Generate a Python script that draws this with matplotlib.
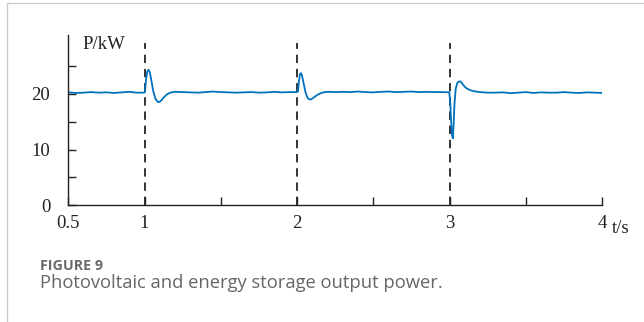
import matplotlib
matplotlib.use("Agg")
from matplotlib import pyplot as plt
from matplotlib.lines import Line2D

# output power of PV + storage
t_pre = [0.50, 0.55, 0.60, 0.65, 0.70, 0.75, 0.80, 0.85, 0.90, 0.95, 0.998]
p_pre = [20.25, 20.15, 20.2, 20.3, 20.2, 20.25, 20.15, 20.25, 20.35, 20.2, 20.2]

t_step1 = [1.003, 1.010, 1.018, 1.026, 1.034, 1.044, 1.056, 1.070, 1.084, 1.096,
           1.110, 1.128, 1.150, 1.175, 1.200]
p_step1 = [20.3, 22.6, 24.0, 24.3, 23.9, 22.5, 20.6, 19.2, 18.6, 18.5,
           18.8, 19.4, 19.95, 20.25, 20.35]

t_mid1 = [1.25, 1.30, 1.35, 1.40, 1.45, 1.50, 1.55, 1.60, 1.65, 1.70, 1.75,
          1.80, 1.85, 1.90, 1.95, 1.998]
p_mid1 = [20.3, 20.25, 20.2, 20.3, 20.4, 20.3, 20.25, 20.2, 20.25, 20.3, 20.2,
          20.25, 20.35, 20.25, 20.3, 20.3]

t_step2 = [2.006, 2.013, 2.019, 2.025, 2.032, 2.042, 2.055, 2.068, 2.080,
           2.092, 2.108, 2.130, 2.155, 2.180, 2.210]
p_step2 = [20.4, 22.4, 23.5, 23.7, 23.3, 22.0, 20.3, 19.3, 19.0,
           19.0, 19.3, 19.75, 20.1, 20.3, 20.35]

t_mid2 = [2.25, 2.30, 2.35, 2.40, 2.45, 2.50, 2.55, 2.60, 2.65, 2.70, 2.75,
          2.80, 2.85, 2.90, 2.95, 2.998]
p_mid2 = [20.3, 20.35, 20.3, 20.4, 20.3, 20.25, 20.35, 20.4, 20.3, 20.35, 20.4,
          20.3, 20.35, 20.3, 20.3, 20.25]

t_step3 = [3.004, 3.010, 3.016, 3.021, 3.026, 3.032, 3.040, 3.050, 3.060,
           3.072, 3.086, 3.105, 3.130, 3.160, 3.200]
p_step3 = [18.5, 15.0, 12.6, 12.0, 14.2, 18.2, 20.9, 21.9, 22.2,
           22.2, 21.7, 21.1, 20.7, 20.45, 20.3]

t_post = [3.25, 3.30, 3.35, 3.40, 3.45, 3.50, 3.55, 3.60, 3.65, 3.70, 3.75,
          3.80, 3.85, 3.90, 3.95, 4.00]
p_post = [20.2, 20.2, 20.25, 20.1, 20.2, 20.3, 20.15, 20.25, 20.2, 20.2, 20.3,
          20.2, 20.15, 20.25, 20.2, 20.15]

switch_times = [1, 2, 3]
x_ticks = [0.5, 1, 1.5, 2, 2.5, 3, 3.5, 4]
x_labels = ["0.5", "1", "", "2", "", "3", "", "4"]
y_ticks = [0, 5, 10, 15, 20, 25]
y_labels = ["0", "", "10", "", "20", ""]

t = t_pre + t_step1 + t_mid1 + t_step2 + t_mid2 + t_step3 + t_post
p = p_pre + p_step1 + p_mid1 + p_step2 + p_mid2 + p_step3 + p_post

serif = ["Liberation Serif", "DejaVu Serif"]
fs = 13.5

fig = plt.figure(figsize=(6.44, 3.22), dpi=100)
ax = fig.add_axes([0.106, 0.3624, 0.829, 0.530])

for ts in switch_times:
    ax.plot([ts, ts], [0, 29.1], color="#333333", lw=1.4,
            dashes=(4.3, 3.0), zorder=1)
ax.plot(t, p, color="#0072BD", lw=1.3, zorder=2)

ax.set_xlim(0.5, 4)
ax.set_ylim(0, 30.6)
ax.spines["top"].set_visible(False)
ax.spines["right"].set_visible(False)
for s in ("left", "bottom"):
    ax.spines[s].set_linewidth(1.0)
    ax.spines[s].set_color("#222222")

ax.set_xticks(x_ticks)
ax.set_xticklabels(x_labels, fontfamily=serif, fontsize=fs)
ax.set_yticks(y_ticks)
ax.set_yticklabels(y_labels, fontfamily=serif, fontsize=fs)
ax.tick_params(axis="both", direction="in", length=6, width=1.0,
               color="#222222", labelcolor="#222222")
ax.tick_params(axis="y", pad=13)
ax.tick_params(axis="x", pad=7)

ax.text(0.027, 0.995, "P/kW", transform=ax.transAxes, fontfamily=serif,
        fontsize=fs, color="#222222", va="top", ha="left")
ax.text(1.018, -0.085, "t/s", transform=ax.transAxes, fontfamily=serif,
        fontsize=fs, color="#222222", va="top", ha="left")

# page frame and caption
fig.add_artist(Line2D([7 / 644, 7 / 644, 1], [0, 1 - 3 / 322, 1 - 3 / 322],
                      transform=fig.transFigure, color="#cccccc", lw=1.0))
fig.text(40 / 644, 1 - 269.5 / 322, "FIGURE 9", fontfamily="Open Sans",
         fontweight="bold", fontsize=10.3, color="#6a6a6a", va="baseline")
fig.text(40 / 644, 1 - 288.5 / 322, "Photovoltaic and energy storage output power.",
         fontfamily="Open Sans", fontsize=13.2, color="#666666", va="baseline")

fig.savefig("out.png", dpi=100)
